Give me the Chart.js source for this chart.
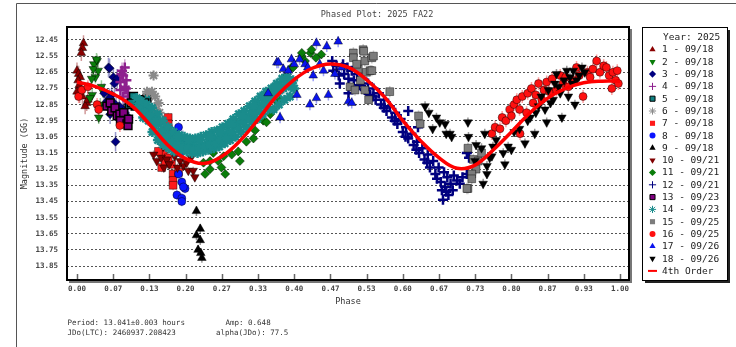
<!DOCTYPE html>
<html>
<head>
<meta charset="utf-8">
<title>Phased Plot: 2025 FA22</title>
<script src="https://cdn.jsdelivr.net/npm/chart.js@4.4.1/dist/chart.umd.min.js"></script>
<style>
  html, body { margin: 0; padding: 0; background: #fff; }
  #wrap { width: 736px; height: 347px; }
</style>
</head>
<body>
<div id="wrap"><canvas id="phased" width="736" height="347"></canvas></div>
<script>
// Lightcurve of 2025 FA22 folded on P = 13.041 h, one array per session [phase, mag]

const ses01 = [[0.012,12.47],[0.010,12.50],[0.008,12.53],[0.000,12.64],[0.003,12.66],[0.006,12.68],[0.002,12.70],[0.004,12.73],[0.000,12.77],[0.005,12.79],[0.010,12.80],[0.018,12.84],[0.015,12.86],[0.020,12.82]];
const ses02 = [[0.037,12.58],[0.031,12.60],[0.036,12.57],[0.039,12.64],[0.030,12.63],[0.034,12.68],[0.027,12.69],[0.045,12.74],[0.028,12.79],[0.043,12.85],[0.039,12.87],[0.040,12.93],[0.024,12.81],[0.048,12.77]];
const ses03 = [[0.058,12.62],[0.060,12.625],[0.067,12.68],[0.074,12.69],[0.069,12.72],[0.064,12.79],[0.061,12.91],[0.071,13.08],[0.055,12.83],[0.072,12.86],[0.085,12.88],[0.050,12.78],[0.060,12.81],[0.068,12.84],[0.078,12.86],[0.088,12.90],[0.095,12.93],[0.180,13.06],[0.195,13.07],[0.170,13.08]];
const ses04 = [[0.083,12.64],[0.088,12.62],[0.085,12.67],[0.082,12.66],[0.080,12.71],[0.091,12.70],[0.090,12.75],[0.080,12.76],[0.088,12.74],[0.094,12.78],[0.085,12.80],[0.098,12.82]];
const ses05 = [[0.104,12.80],[0.114,12.83],[0.123,12.86],[0.129,12.81],[0.107,12.86],[0.096,12.85],[0.120,12.87],[0.116,12.82],[0.100,12.84],[0.125,12.84]];
const ses06 = [[0.141,12.67],[0.129,12.77],[0.138,12.77],[0.144,12.80],[0.150,12.84],[0.146,12.88],[0.138,12.89],[0.147,12.94],[0.152,12.90]];
const ses07 = [[0.168,12.93],[0.168,12.97],[0.168,13.00],[0.168,13.03],[0.159,13.15],[0.156,13.24],[0.174,13.22],[0.177,13.28],[0.177,13.32],[0.177,13.35],[0.168,13.18],[0.187,13.27],[0.160,13.10],[0.150,13.14],[0.163,13.20]];
const ses08 = [[0.187,12.99],[0.190,13.15],[0.187,13.28],[0.193,13.33],[0.199,13.37],[0.184,13.41],[0.193,13.43],[0.193,13.45],[0.196,13.36]];
const ses09 = [[0.220,13.51],[0.227,13.62],[0.220,13.66],[0.227,13.69],[0.223,13.75],[0.228,13.77],[0.230,13.80]];
const ses10 = [[0.141,13.16],[0.147,13.20],[0.155,13.18],[0.160,13.24],[0.165,13.19],[0.170,13.22],[0.180,13.17],[0.190,13.20],[0.196,13.11],[0.196,13.23],[0.202,13.21],[0.205,13.26],[0.214,13.26],[0.217,13.30],[0.159,13.11],[0.185,13.24],[0.210,13.18]];
const ses11 = [[0.233,13.21],[0.236,13.28],[0.245,13.25],[0.245,13.20],[0.251,13.15],[0.260,13.20],[0.266,13.24],[0.270,13.17],[0.273,13.28],[0.285,13.16],[0.297,13.14],[0.300,13.20],[0.312,13.08],[0.325,13.06],[0.328,13.01],[0.343,12.95],[0.349,12.96],[0.356,12.91],[0.362,12.88],[0.370,12.84],[0.374,12.82],[0.383,12.68],[0.386,12.70],[0.395,12.62],[0.398,12.62],[0.414,12.55],[0.414,12.53],[0.420,12.58],[0.430,12.53],[0.432,12.51],[0.450,12.54],[0.440,12.56]];
const ses12 = [[0.470,12.58],[0.472,12.64],[0.478,12.61],[0.482,12.67],[0.484,12.72],[0.490,12.60],[0.492,12.66],[0.498,12.62],[0.500,12.69],[0.500,12.78],[0.506,12.64],[0.510,12.70],[0.516,12.66],[0.520,12.73],[0.526,12.69],[0.530,12.76],[0.536,12.72],[0.540,12.79],[0.546,12.75],[0.550,12.82],[0.556,12.78],[0.560,12.85],[0.566,12.82],[0.570,12.89],[0.576,12.86],[0.580,12.93],[0.586,12.90],[0.590,12.97],[0.596,12.94],[0.600,13.02],[0.606,12.99],[0.610,13.06],[0.610,12.89],[0.616,13.03],[0.620,13.10],[0.626,13.08],[0.628,12.99],[0.630,13.15],[0.636,13.12],[0.640,13.19],[0.646,13.16],[0.650,13.24],[0.656,13.20],[0.660,13.28],[0.666,13.24],[0.670,13.33],[0.672,13.38],[0.676,13.27],[0.678,13.36],[0.674,13.44],[0.682,13.30],[0.684,13.41],[0.688,13.34],[0.692,13.38],[0.694,13.29],[0.700,13.32],[0.705,13.34],[0.710,13.30],[0.718,13.28],[0.718,13.15],[0.722,13.18],
  [0.545,12.80],[0.565,12.87],[0.585,12.95],[0.605,13.05],[0.625,13.13],[0.645,13.21],[0.663,13.31],[0.680,13.39]];
const ses13 = [[0.055,12.86],[0.061,12.84],[0.064,12.89],[0.070,12.87],[0.074,12.92],[0.079,12.91],[0.080,12.95],[0.086,12.90],[0.092,12.97],[0.094,12.98],[0.095,12.94]];
const ses14 = [[0.110,12.81],[0.112,12.86],[0.118,12.83],[0.120,12.88],[0.122,12.93],[0.128,12.85],[0.130,12.90],[0.132,12.95],
  [0.138,12.87],[0.140,12.93],[0.142,12.98],[0.139,13.02],[0.148,12.91],[0.150,12.97],[0.152,13.03],[0.149,13.07],
  [0.158,12.95],[0.160,13.00],[0.162,13.06],[0.159,13.10],[0.168,12.99],[0.170,13.04],[0.172,13.09],[0.169,13.12],
  [0.178,13.02],[0.180,13.07],[0.182,13.11],[0.179,13.14],[0.188,13.04],[0.190,13.09],[0.192,13.13],
  [0.198,13.05],[0.200,13.10],[0.202,13.14],[0.208,13.06],[0.210,13.10],[0.212,13.15],[0.218,13.06],[0.220,13.11],[0.222,13.15],
  [0.228,13.05],[0.230,13.10],[0.232,13.14],[0.238,13.04],[0.240,13.09],[0.242,13.13],[0.248,13.02],[0.250,13.07],[0.252,13.12],
  [0.258,13.01],[0.260,13.06],[0.262,13.11],[0.268,12.99],[0.270,13.04],[0.272,13.09],[0.278,12.97],[0.280,13.02],[0.282,13.07],
  [0.288,12.94],[0.290,12.99],[0.292,13.05],[0.298,12.91],[0.300,12.96],[0.302,13.02],[0.308,12.89],[0.310,12.94],[0.312,12.99],
  [0.318,12.86],[0.320,12.91],[0.322,12.96],[0.328,12.83],[0.330,12.88],[0.332,12.94],[0.338,12.80],[0.340,12.85],[0.342,12.91],
  [0.348,12.77],[0.350,12.82],[0.352,12.88],[0.358,12.75],[0.360,12.81],[0.362,12.88],[0.368,12.72],[0.370,12.78],[0.372,12.85],
  [0.378,12.69],[0.380,12.75],[0.382,12.82],[0.388,12.68],[0.390,12.73],[0.392,12.80],[0.398,12.70],[0.400,12.75],
  [0.125,12.90],[0.135,12.92],[0.145,12.95],[0.155,13.02],[0.165,13.05],[0.175,13.08],[0.185,13.10],[0.195,13.12],[0.205,13.12],
  [0.215,13.13],[0.225,13.12],[0.235,13.11],[0.245,13.10],[0.255,13.09],[0.265,13.07],[0.275,13.05],[0.285,13.02],[0.295,12.99],
  [0.305,12.96],[0.315,12.93],[0.325,12.90],[0.335,12.87],[0.345,12.84],[0.355,12.80],[0.365,12.77],[0.375,12.74],[0.385,12.73],
  [0.395,12.74],[0.185,13.05],[0.205,13.07],[0.225,13.07],[0.245,13.05],[0.265,13.02],[0.285,12.97],[0.305,12.92],[0.325,12.86],
  [0.345,12.80],[0.365,12.74]];
const ses15 = [[0.503,12.74],[0.509,12.53],[0.509,12.56],[0.518,12.63],[0.527,12.51],[0.528,12.52],[0.530,12.58],[0.530,12.76],[0.533,12.65],[0.537,12.82],[0.540,12.64],[0.543,12.56],[0.546,12.55],[0.543,12.64],[0.512,12.76],[0.576,12.77],[0.629,12.92],[0.632,12.97],[0.720,13.12],[0.730,13.19],[0.739,13.20],[0.745,13.15],[0.735,13.25],[0.727,13.28],[0.720,13.37],[0.718,13.37],[0.727,13.31],[0.515,12.60],[0.522,12.70]];
const ses16 = [[0.764,13.03],[0.770,12.99],[0.779,13.00],[0.783,12.93],[0.790,12.95],[0.797,12.88],[0.800,12.92],[0.805,12.85],[0.810,12.82],[0.815,12.88],[0.816,13.03],[0.820,12.80],[0.828,12.90],[0.830,12.78],[0.837,12.75],[0.840,12.84],[0.845,12.79],[0.850,12.72],[0.856,12.82],[0.860,12.76],[0.865,12.71],[0.870,12.77],[0.875,12.69],[0.883,12.76],[0.890,12.67],[0.895,12.72],[0.900,12.68],[0.905,12.74],[0.914,12.70],[0.920,12.62],[0.925,12.67],[0.932,12.80],[0.940,12.65],[0.945,12.68],[0.950,12.63],[0.957,12.58],[0.963,12.65],[0.970,12.61],[0.975,12.62],[0.980,12.67],[0.985,12.75],[0.987,12.65],[0.992,12.70],[0.997,12.72],[0.995,12.64],
  [0.003,12.80],[0.009,12.76],[0.020,12.74],[0.037,12.85],[0.040,12.88],[0.079,12.98]];
const ses17 = [[0.352,12.78],[0.368,12.59],[0.371,12.59],[0.374,12.93],[0.380,12.63],[0.389,12.64],[0.395,12.57],[0.405,12.79],[0.410,12.57],[0.420,12.60],[0.429,12.85],[0.435,12.67],[0.441,12.47],[0.441,12.81],[0.454,12.64],[0.460,12.49],[0.463,12.79],[0.475,12.66],[0.481,12.46],[0.487,12.62],[0.500,12.83],[0.506,12.84],[0.400,12.60],[0.425,12.62],[0.447,12.60]];
const ses18 = [[0.641,12.86],[0.648,12.90],[0.662,12.93],[0.668,12.96],[0.678,12.97],[0.680,13.03],[0.687,13.03],[0.690,13.05],[0.655,13.00],[0.720,12.96],[0.721,13.05],[0.735,13.10],[0.745,13.12],[0.748,13.34],[0.755,13.28],[0.755,13.23],[0.760,13.18],[0.764,13.17],[0.766,13.11],[0.772,13.07],[0.785,13.15],[0.788,13.22],[0.794,13.11],[0.800,13.13],[0.805,13.02],[0.815,13.00],[0.825,13.09],[0.830,12.95],[0.835,12.93],[0.843,13.03],[0.845,12.90],[0.850,12.86],[0.855,12.80],[0.862,12.88],[0.865,12.96],[0.868,12.76],[0.872,12.84],[0.877,12.82],[0.880,12.72],[0.883,12.66],[0.887,12.74],[0.890,12.78],[0.893,12.93],[0.897,12.70],[0.902,12.64],[0.905,12.80],[0.908,12.68],[0.912,12.72],[0.914,12.64],[0.917,12.85],[0.920,12.70],[0.925,12.67],[0.930,12.62],[0.935,12.65],[0.751,13.03],[0.733,13.20]];

// 1-sigma error per session (mag)
const sessionErr = [0.05, 0.04, 0.06, 0.05, 0.02, 0.03, 0.03, 0.03, 0.03, 0.025, 0.025, 0.015, 0.02, 0.012, 0.035, 0.04, 0.035, 0.03];

const sessionLabels = ["1 - 09/18", "2 - 09/18", "3 - 09/18", "4 - 09/18", "5 - 09/18", "6 - 09/18",
  "7 - 09/18", "8 - 09/18", "9 - 09/18", "10 - 09/21", "11 - 09/21", "12 - 09/21",
  "13 - 09/23", "14 - 09/23", "15 - 09/25", "16 - 09/25", "17 - 09/26", "18 - 09/26"];

// 4th order Fourier fit, sampled along the phase
const fitPhase = [0.000, 0.033, 0.067, 0.100, 0.133, 0.167, 0.200, 0.233, 0.267, 0.300, 0.333, 0.367, 0.400, 0.433, 0.467,
  0.500, 0.533, 0.567, 0.600, 0.633, 0.667, 0.700, 0.733, 0.767, 0.800, 0.833, 0.867, 0.900, 0.933, 0.967, 1.000];
const fitMag = [12.710, 12.737, 12.785, 12.855, 12.970, 13.100, 13.185, 13.215, 13.170, 13.075, 12.945, 12.800, 12.695, 12.625, 12.598,
  12.620, 12.695, 12.805, 12.950, 13.075, 13.180, 13.245, 13.225, 13.130, 13.020, 12.905, 12.810, 12.750, 12.715, 12.705, 12.705];

const phaseTicks = [0, 0.0667, 0.1333, 0.2, 0.2667, 0.3333, 0.4, 0.4667, 0.5333, 0.6, 0.6667, 0.7333, 0.8, 0.8667, 0.9333, 1.0];
const magTicks = [12.45, 12.55, 12.65, 12.75, 12.85, 12.95, 13.05, 13.15, 13.25, 13.35, 13.45, 13.55, 13.65, 13.75, 13.85];

const sessions = [ses01, ses02, ses03, ses04, ses05, ses06, ses07, ses08, ses09, ses10, ses11, ses12, ses13, ses14, ses15, ses16, ses17, ses18];

const MONO = "'DejaVu Sans Mono', 'Liberation Mono', monospace";

// marker look for each session: filled shapes get a dark rim, line shapes are stroked in colour
const markers = [
  { color: "#8b0000", shape: "triangle", rot: 0, r: 5 },
  { color: "#0a7d0a", shape: "triangle", rot: 180, r: 5 },
  { color: "#000080", shape: "rectRot", rot: 0, r: 4.5 },
  { color: "#8e1f8e", shape: "cross", rot: 0, r: 5, line: 2.5 },
  { color: "#0f8080", shape: "rect", rot: 0, r: 5.5, edge: "#000", edgeW: 1.5 },
  { color: "#8a8a8a", shape: "star", rot: 0, r: 5, line: 2 },
  { color: "#ff1a1a", shape: "rect", rot: 0, r: 5.5 },
  { color: "#0a14ff", shape: "circle", rot: 0, r: 4 },
  { color: "#000000", shape: "triangle", rot: 0, r: 5 },
  { color: "#800000", shape: "triangle", rot: 180, r: 5 },
  { color: "#0a7d0a", shape: "rectRot", rot: 0, r: 4.5 },
  { color: "#000080", shape: "cross", rot: 0, r: 5, line: 2.5 },
  { color: "#800080", shape: "rect", rot: 0, r: 5.5, edge: "#000", edgeW: 1.5 },
  { color: "#1a8c8c", shape: "star", rot: 0, r: 5, line: 2.5 },
  { color: "#7c7c7c", shape: "rect", rot: 0, r: 5.5 },
  { color: "#ff1010", shape: "circle", rot: 0, r: 4 },
  { color: "#0a14ee", shape: "triangle", rot: 0, r: 5 },
  { color: "#000000", shape: "triangle", rot: 180, r: 5 },
];

function withAlpha(hex, a) {
  const n = parseInt(hex.slice(1), 16);
  return `rgba(${(n >> 16) & 255},${(n >> 8) & 255},${n & 255},${a})`;
}

const datasets = sessions.map((pts, i) => {
  const m = markers[i];
  return {
    type: "scatter",
    label: sessionLabels[i],
    data: pts.map(([x, y]) => ({ x, y })),
    pointStyle: m.shape,
    rotation: m.rot,
    pointRadius: m.r,
    pointHoverRadius: m.r,
    backgroundColor: m.color,
    borderColor: m.line ? m.color : (m.edge || "rgba(0,0,0,0.55)"),
    borderWidth: m.line || m.edgeW || 0.8,
    order: 100 - i,
  };
});

datasets.push({
  type: "line",
  label: "4th Order",
  data: fitPhase.map((x, i) => ({ x, y: fitMag[i] })),
  borderColor: "#ff0000",
  borderWidth: 3.5,
  pointRadius: 0,
  tension: 0.4,
  fill: false,
  order: 0,
});

// error bars under the markers, ticks inside the plot, frame, legend and captions
const decor = {
  id: "decor",
  beforeDatasetsDraw(chart) {
    const { ctx, chartArea: a, scales: { y } } = chart;
    ctx.save();
    ctx.beginPath();
    ctx.rect(a.left, a.top, a.right - a.left, a.bottom - a.top);
    ctx.clip();
    ctx.lineWidth = 1.5;
    sessions.forEach((pts, i) => {
      const meta = chart.getDatasetMeta(i);
      ctx.strokeStyle = withAlpha(markers[i].color, 0.4);
      ctx.beginPath();
      meta.data.forEach((el, k) => {
        const mag = pts[k][1];
        ctx.moveTo(el.x, y.getPixelForValue(mag - sessionErr[i]));
        ctx.lineTo(el.x, y.getPixelForValue(mag + sessionErr[i]));
      });
      ctx.stroke();
    });
    ctx.restore();
  },
  afterDraw(chart) {
    const { ctx, chartArea: a, scales: { x } } = chart;
    ctx.save();

    // outer panel edge
    ctx.strokeStyle = "#555";
    ctx.lineWidth = 1;
    ctx.beginPath();
    ctx.moveTo(16.5, 347);
    ctx.lineTo(16.5, 3.5);
    ctx.lineTo(736, 3.5);
    ctx.stroke();

    // plot frame with a thin shadow
    ctx.fillStyle = "#777";
    ctx.fillRect(a.right + 1, a.top + 2, 2, a.bottom - a.top + 1);
    ctx.fillRect(a.left + 2, a.bottom + 1, a.right - a.left + 1, 2);
    ctx.strokeStyle = "#000";
    ctx.lineWidth = 2;
    ctx.strokeRect(a.left, a.top, a.right - a.left, a.bottom - a.top);

    // phase ticks point inward
    ctx.strokeStyle = "#666";
    ctx.lineWidth = 1.5;
    ctx.beginPath();
    phaseTicks.forEach((v) => {
      const px = Math.round(x.getPixelForValue(v)) + 0.5;
      ctx.moveTo(px, a.bottom - 1);
      ctx.lineTo(px, a.bottom - 6);
    });
    ctx.stroke();

    // title
    ctx.fillStyle = "#444";
    ctx.font = `8.5px ${MONO}`;
    ctx.textAlign = "center";
    ctx.textBaseline = "middle";
    ctx.fillText("Phased Plot: 2025 FA22", 377, 15);

    // fit summary under the axis
    ctx.fillStyle = "#333";
    ctx.font = `7.5px ${MONO}`;
    ctx.textAlign = "left";
    ctx.fillText("Period: 13.041\u00b10.003 hours", 67.5, 323);
    ctx.fillText("JDo(LTC): 2460937.208423", 67.5, 333);
    ctx.fillText("Amp: 0.648", 225.5, 323);
    ctx.fillText("alpha(JDo): 77.5", 216, 333);

    // legend box
    const L = { x: 642, y: 27, w: 85, h: 253 };
    ctx.fillStyle = "#222";
    ctx.fillRect(L.x + 3, L.y + 3, L.w, L.h);
    ctx.fillStyle = "#fff";
    ctx.fillRect(L.x, L.y, L.w, L.h);
    ctx.strokeStyle = "#000";
    ctx.lineWidth = 1;
    ctx.strokeRect(L.x + 0.5, L.y + 0.5, L.w, L.h);

    ctx.font = `9.5px ${MONO}`;
    ctx.fillStyle = "#222";
    ctx.fillText("Year: 2025", 663, 37.5);

    const step = 12.3;
    sessionLabels.forEach((lab, i) => {
      const yy = 49.5 + i * step;
      const m = markers[i];
      ctx.fillStyle = m.color;
      ctx.strokeStyle = m.line ? m.color : (m.edge || m.color);
      Chart.helpers.drawPoint(ctx, {
        pointStyle: m.shape,
        rotation: m.rot,
        radius: m.shape === "circle" ? 3 : 3.6,
        borderWidth: m.line ? 2 : (m.edge ? 1.5 : 0),
      }, 652.5, yy);
      ctx.fillStyle = "#222";
      ctx.fillText(lab, 662, yy + 0.5);
    });
    const yFit = 49.5 + sessionLabels.length * step;
    ctx.strokeStyle = "#ff0000";
    ctx.lineWidth = 2;
    ctx.beginPath();
    ctx.moveTo(648, yFit);
    ctx.lineTo(657, yFit);
    ctx.stroke();
    ctx.fillStyle = "#222";
    ctx.fillText("4th Order", 662, yFit + 0.5);

    ctx.restore();
  },
};

new Chart(document.getElementById("phased"), {
  type: "scatter",
  data: { datasets },
  options: {
    responsive: false,
    animation: false,
    devicePixelRatio: 1,
    layout: { padding: { left: 0, top: 27, right: 107, bottom: 0 } },
    plugins: { legend: { display: false }, title: { display: false }, tooltip: { enabled: false } },
    scales: {
      x: {
        type: "linear",
        min: -0.0184,
        max: 1.0166,
        afterBuildTicks: (s) => { s.ticks = phaseTicks.map((v) => ({ value: v })); },
        afterFit: (s) => { s.height = 67; },
        grid: { display: false, drawTicks: false },
        border: { display: false },
        ticks: {
          padding: 5,
          maxRotation: 0,
          autoSkip: false,
          color: "#444",
          font: { family: MONO, size: 7.5, weight: "bold" },
          callback: (v) => Number(v).toFixed(2),
        },
        title: {
          display: true,
          text: "Phase",
          color: "#333",
          font: { family: MONO, size: 8.5 },
          padding: { top: 0, bottom: 40 },
        },
      },
      y: {
        type: "linear",
        reverse: true,
        min: 12.3695,
        max: 13.9367,
        afterBuildTicks: (s) => { s.ticks = magTicks.map((v) => ({ value: v })); },
        afterFit: (s) => { s.width = 67; },
        grid: { color: "#555", lineWidth: 1, drawTicks: false },
        border: { display: false, dash: [2, 2] },
        ticks: {
          padding: 9,
          autoSkip: false,
          color: "#444",
          font: { family: MONO, size: 7.5, weight: "bold" },
          callback: (v) => Number(v).toFixed(2),
        },
        title: {
          display: true,
          text: "Magnitude (GG)",
          color: "#333",
          font: { family: MONO, size: 8.5 },
          padding: { top: 20, bottom: 0 },
        },
      },
    },
  },
  plugins: [decor],
});
</script>
</body>
</html>
